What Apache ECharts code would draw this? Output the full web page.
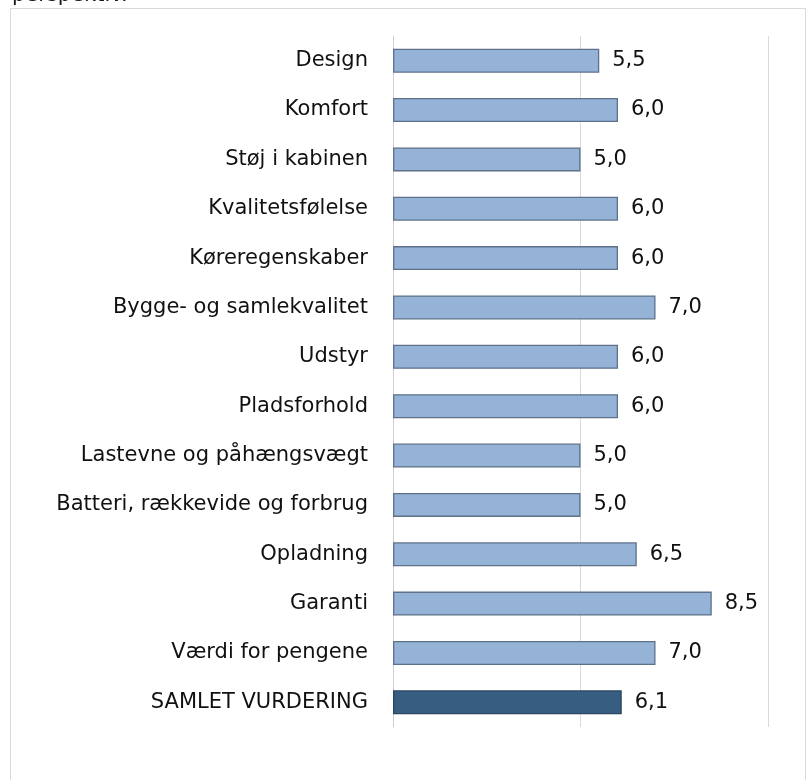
<!DOCTYPE html>
<html>
<head>
<meta charset="utf-8">
<script src="https://cdn.jsdelivr.net/npm/echarts@6/dist/echarts.min.js"></script>
<style>
  html, body {margin: 0; padding: 0; background: #fff;}
  #chart {width: 811px; height: 780px;}
</style>
</head>
<body>
<div id="chart"></div>
<script>
const categories = [
  'Design', 'Komfort', 'Støj i kabinen', 'Kvalitetsfølelse', 'Køreregenskaber',
  'Bygge- og samlekvalitet', 'Udstyr', 'Pladsforhold', 'Lastevne og påhængsvægt',
  'Batteri, rækkevide og forbrug', 'Opladning', 'Garanti', 'Værdi for pengene',
  'SAMLET VURDERING'
]
const scores = [5.5, 6.0, 5.0, 6.0, 6.0, 7.0, 6.0, 6.0, 5.0, 5.0, 6.5, 8.5, 7.0, 6.1]
const axisTicks = [0, 5, 10]

const font = 'DejaVu Sans'
const lightBar = {color: '#95b3d7', borderColor: '#5d7189', borderWidth: 1.3}
const darkBar = {color: '#375e80', borderColor: '#2a4660', borderWidth: 1.3}

let data = scores.map(function (v, i) {
  return {value: v, itemStyle: i === scores.length - 1 ? darkBar : lightBar}
})

let option = {
  animation: false,
  backgroundColor: '#fff',
  graphic: [
    {type: 'rect', shape: {x: 10.5, y: 8.5, width: 795, height: 800}, style: {fill: 'none', stroke: '#d9d9d9', lineWidth: 1}},
    {type: 'text', x: 12, y: -15, style: {text: 'perspektiv.', font: '21px ' + font, fill: '#1a1a1a'}}
  ],
  grid: {left: 393, right: 43, top: 36, bottom: 53},
  xAxis: {
    type: 'value',
    min: axisTicks[0],
    max: axisTicks[axisTicks.length - 1],
    interval: axisTicks[1] - axisTicks[0],
    axisLine: {show: false},
    axisTick: {show: false},
    axisLabel: {show: false},
    splitLine: {lineStyle: {color: '#d9d9d9', width: 1}}
  },
  yAxis: {
    type: 'category',
    inverse: true,
    data: categories,
    axisLine: {lineStyle: {color: '#cfcfcf'}},
    axisTick: {length: 8, lineStyle: {color: '#cfcfcf'}},
    axisLabel: {margin: 25, color: '#111', fontSize: 21, fontFamily: font}
  },
  series: [
    {
      type: 'bar',
      barWidth: 24,
      silent: true,
      data: data,
      label: {
        show: true,
        position: 'right',
        distance: 13,
        color: '#111',
        fontSize: 21,
        fontFamily: font,
        formatter: function (p) { return p.value.toFixed(1).replace('.', ',') }
      }
    }
  ]
}
echarts.init(document.getElementById('chart')).setOption(option)
</script>
</body>
</html>
